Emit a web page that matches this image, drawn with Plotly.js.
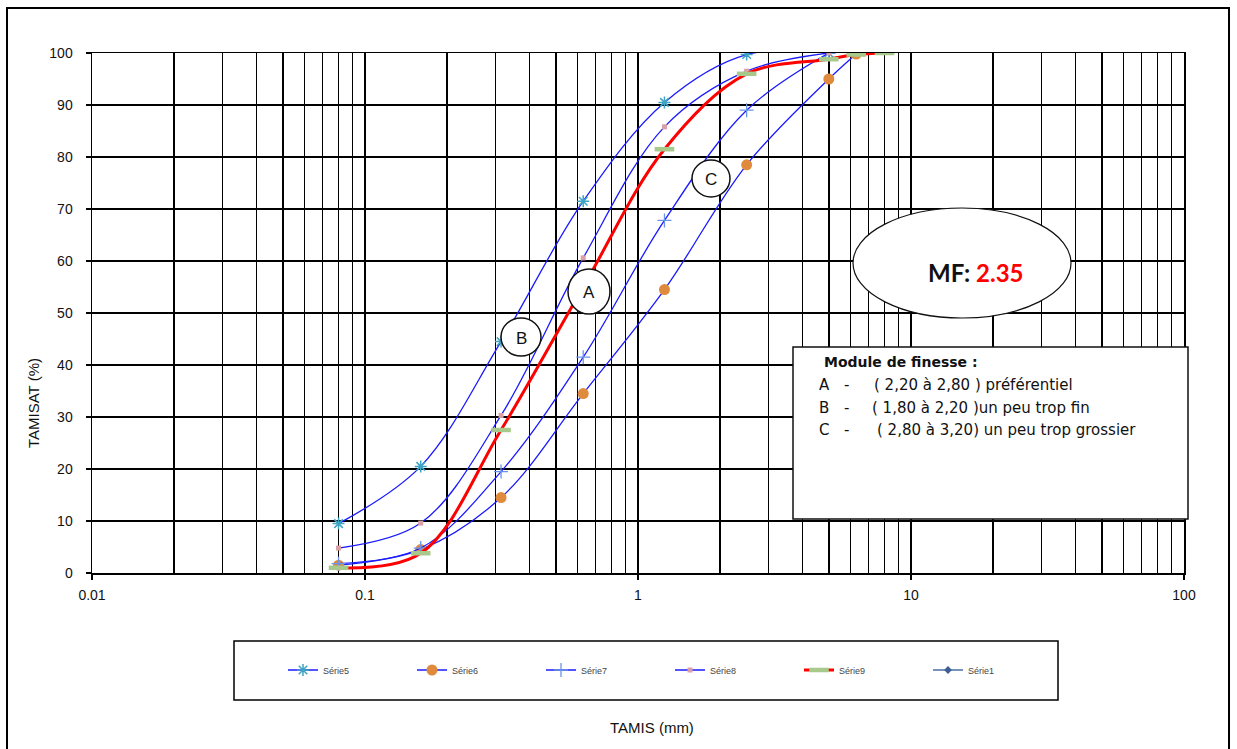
<!DOCTYPE html>
<html>
<head>
<meta charset="utf-8">
<script src="https://cdn.plot.ly/plotly-3.0.1.min.js"></script>
<style>
html,body{margin:0;padding:0;background:#fff;}
#chart{width:1237px;height:749px;}
</style>
</head>
<body>
<div id="chart"></div>
<script>
// ---- data ----
const sieves = [0.08, 0.16, 0.315, 0.63, 1.25, 2.5, 5];
const sieves6 = [0.08, 0.16, 0.315, 0.63, 1.25, 2.5, 5, 6.3];
const sieves9 = [0.08, 0.16, 0.315, 0.63, 1.25, 2.5, 5, 6.3, 8];
const serie5 = [9.5, 20.5, 44.5, 71.5, 90.5, 99.7, 100];
const serie6 = [1.5, 4.5, 14.5, 34.5, 54.5, 78.5, 95, 99.8];
const serie7 = [1.8, 4.8, 19.5, 41.5, 67.8, 89, 100];
const serie8 = [4.8, 9.6, 30.3, 60.6, 85.8, 96.5, 100];
const serie9 = [1.0, 3.8, 27.5, 55, 81.5, 96, 98.8, 99.7, 100];
const serie1X = [null];
const serie1Y = [null];
const seriesNames = ['Série5', 'Série6', 'Série7', 'Série8', 'Série9', 'Série1'];
const xTickVals = [0.01, 0.1, 1, 10, 100];
const xTickText = ['0.01', '0.1', '1', '10', '100'];
const mfValue = '2.35';
const zoneLabels = ['A', 'B', 'C'];
const boxTitle = 'Module de finesse :';
const boxRows = [
  ['A', '-', '( 2,20 à 2,80 ) préférentiel'],
  ['B', '-', '( 1,80 à 2,20 )un peu trop fin'],
  ['C', '-', '( 2,80 à 3,20) un peu trop grossier']
];

// minor grid values (2..9 of each decade)
const minorVals = [];
[0.01, 0.1, 1, 10].forEach(d => { for (let k = 2; k <= 9; k++) minorVals.push(+(d * k).toPrecision(3)); });

// ---- pixel -> paper helpers (layout only) ----
const L = 92, R = 1184, T = 53, B = 573;
const px = x => (x - L) / (R - L);
const py = y => (B - y) / (B - T);

const blue = '#1a1aff';
const traces = [
  {x: sieves, y: serie5, name: seriesNames[0], mode: 'lines+markers',
   line: {color: blue, width: 1.3, shape: 'spline'},
   marker: {symbol: 'asterisk-open', size: 10, color: '#3fa3c4', line: {color: '#3fa3c4', width: 1.5}}},
  {x: sieves6, y: serie6, name: seriesNames[1], mode: 'lines+markers',
   line: {color: blue, width: 1.3, shape: 'spline'},
   marker: {symbol: 'circle', size: 11, color: '#df8a3c'}},
  {x: sieves, y: serie7, name: seriesNames[2], mode: 'lines+markers',
   line: {color: blue, width: 1.3, shape: 'spline'},
   marker: {symbol: 'cross-thin-open', size: 10, color: '#6a93ea', line: {color: '#6a93ea', width: 1.3}}},
  {x: sieves, y: serie8, name: seriesNames[3], mode: 'lines+markers',
   line: {color: blue, width: 1.3, shape: 'spline'},
   marker: {symbol: 'square', size: 5, color: '#d9a0a8'}},
  {x: sieves9, y: serie9, name: seriesNames[4], mode: 'lines+markers',
   line: {color: '#ff0000', width: 3, shape: 'spline'},
   marker: {symbol: 'line-ew-open', size: 14, color: '#a8c98c', line: {color: '#a8c98c', width: 4.5}}},
  {x: serie1X, y: serie1Y, name: seriesNames[5], mode: 'lines+markers',
   line: {color: '#4a6fa5', width: 1.5},
   marker: {symbol: 'diamond', size: 6, color: '#3d5f94'}}
];

const shapes = [
  {type: 'rect', xref: 'paper', yref: 'paper', x0: px(7), x1: px(1229), y0: py(765), y1: py(8),
   line: {color: '#000', width: 2}, fillcolor: 'rgba(0,0,0,0)', layer: 'below'},
  {type: 'rect', xref: 'paper', yref: 'paper', x0: px(234), x1: px(1058), y0: py(700), y1: py(641),
   line: {color: '#000', width: 1.5}, fillcolor: 'rgba(0,0,0,0)', layer: 'below'},
  {type: 'circle', xref: 'paper', yref: 'paper', x0: px(568), x1: px(610), y0: py(314), y1: py(269),
   line: {color: '#111', width: 1.5}, fillcolor: '#fff', layer: 'above'},
  {type: 'circle', xref: 'paper', yref: 'paper', x0: px(501), x1: px(541), y0: py(356), y1: py(318),
   line: {color: '#111', width: 1.5}, fillcolor: '#fff', layer: 'above'},
  {type: 'circle', xref: 'paper', yref: 'paper', x0: px(692), x1: px(730), y0: py(197), y1: py(160),
   line: {color: '#111', width: 1.5}, fillcolor: '#fff', layer: 'above'},
  {type: 'circle', xref: 'paper', yref: 'paper', x0: px(853), x1: px(1071), y0: py(318), y1: py(208),
   line: {color: '#111', width: 1.2}, fillcolor: '#fff', layer: 'above'},
  {type: 'rect', xref: 'paper', yref: 'paper', x0: px(793), x1: px(1188), y0: py(519), y1: py(347),
   line: {color: '#111', width: 1.5}, fillcolor: '#fff', layer: 'above'}
];

const txtFont = {family: '"DejaVu Sans", sans-serif', size: 15, color: '#111'};
const lblFont = {family: '"Liberation Sans", Arial, sans-serif', size: 17, color: '#111'};
const ann = (x, y, text, font, extra) => Object.assign({xref: 'paper', yref: 'paper', x: px(x), y: py(y),
  xanchor: 'center', yanchor: 'middle', text: text, showarrow: false, font: font}, extra || {});
const annotations = [
  ann(589, 292, zoneLabels[0], lblFont),
  ann(521, 338, zoneLabels[1], lblFont),
  ann(711, 179, zoneLabels[2], lblFont),
  ann(975, 272, '<b>MF: <span style="color:#ff0000">' + mfValue + '</span></b>',
      {family: 'Lato, "Liberation Sans", sans-serif', size: 24, color: '#111'}),
  ann(822, 362, '<b>' + boxTitle + '</b>', {family: '"DejaVu Sans", sans-serif', size: 14, color: '#111'}, {xanchor: 'left'}),
  ann(652, 727, 'TAMIS (mm)', {family: '"Liberation Sans", Arial, sans-serif', size: 15, color: '#111'}),
  ann(33, 403, 'TAMISAT (%)', {family: '"Liberation Sans", Arial, sans-serif', size: 15, color: '#111'}, {textangle: -90})
];
const rowY = [385, 408, 430];
const rowParenX = [872, 870, 875];
boxRows.forEach((r, i) => {
  annotations.push(ann(817, rowY[i], r[0], txtFont, {xanchor: 'left'}));
  annotations.push(ann(842, rowY[i], r[1], txtFont, {xanchor: 'left'}));
  annotations.push(ann(rowParenX[i], rowY[i], r[2], txtFont, {xanchor: 'left'}));
});

const tickFont = {family: '"Liberation Sans", Arial, sans-serif', size: 14, color: '#111'};
const layout = {
  width: 1237, height: 749,
  margin: {l: L, r: 1237 - R, t: T, b: 749 - B, autoexpand: false},
  paper_bgcolor: '#fff', plot_bgcolor: '#fff',
  showlegend: true,
  legend: {orientation: 'h', x: px(283), xanchor: 'left', y: py(670), yanchor: 'middle',
           entrywidth: 84, entrywidthmode: 'pixels', bgcolor: 'rgba(0,0,0,0)', borderwidth: 0,
           font: {family: '"Liberation Sans", Arial, sans-serif', size: 9, color: '#444'}},
  xaxis: {type: 'log', range: [-2, 2], tickmode: 'array', tickvals: xTickVals, ticktext: xTickText,
          showgrid: true, gridcolor: '#000', gridwidth: 1.5,
          minor: {tickmode: 'array', tickvals: minorVals, showgrid: true, gridcolor: '#000', gridwidth: 1.5, ticks: ''},
          ticks: 'outside', ticklen: 5, tickcolor: '#000', tickwidth: 1.5,
          showline: true, linecolor: '#000', linewidth: 1.5, mirror: true, zeroline: false,
          ticklabelstandoff: 4, tickfont: tickFont},
  yaxis: {range: [0, 100], dtick: 10, tick0: 0, showgrid: true, gridcolor: '#000', gridwidth: 1.5,
          ticks: 'outside', ticklen: 5, tickcolor: '#000', tickwidth: 1.5,
          showline: true, linecolor: '#000', linewidth: 1.5, mirror: true, zeroline: false,
          ticklabelstandoff: 10, tickfont: tickFont},
  shapes: shapes,
  annotations: annotations
};

Plotly.newPlot('chart', traces, layout, {displayModeBar: false, staticPlot: true});
</script>
</body>
</html>
